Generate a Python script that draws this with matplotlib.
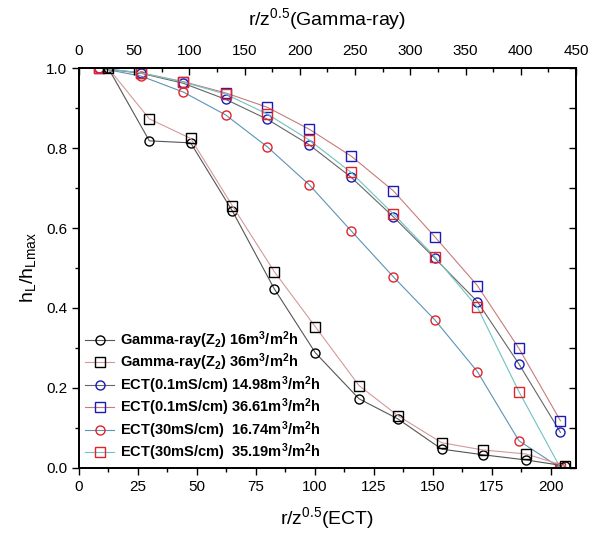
import matplotlib
matplotlib.use("Agg")
import matplotlib.pyplot as plt
from matplotlib.ticker import MultipleLocator

plt.rcParams['font.family'] = ['Liberation Sans', 'DejaVu Sans']
plt.rcParams['mathtext.fontset'] = 'custom'
plt.rcParams['mathtext.rm'] = 'Liberation Sans'
plt.rcParams['mathtext.it'] = 'Liberation Sans'
plt.rcParams['mathtext.bf'] = 'Liberation Sans:bold'

# Gamma-ray data (top axis, r/z^0.5 Gamma-ray)
gamma_x = [26.5, 63.7, 101.1, 138.8, 176.8, 214.0, 253.5, 289.1, 328.4, 365.5, 404.5, 440.0]
gamma_16 = [1.0, 0.818, 0.813, 0.643, 0.448, 0.288, 0.173, 0.122, 0.047, 0.033, 0.020, 0.005]
gamma_36 = [1.0, 0.873, 0.824, 0.656, 0.491, 0.353, 0.206, 0.130, 0.063, 0.045, 0.035, 0.005]

# ECT data (bottom axis, r/z^0.5 ECT)
ect_x = [8.6, 26.3, 44.2, 62.1, 79.8, 97.6, 115.3, 133.2, 150.8, 168.8, 186.4, 204.0]
ect01_1498 = [1.0, 0.987, 0.962, 0.922, 0.872, 0.808, 0.727, 0.628, 0.524, 0.416, 0.260, 0.089]
ect01_3661 = [1.0, 0.988, 0.966, 0.938, 0.902, 0.847, 0.780, 0.693, 0.578, 0.456, 0.299, 0.118]
ect30_1674 = [1.0, 0.980, 0.940, 0.883, 0.803, 0.708, 0.593, 0.478, 0.370, 0.241, 0.068, 0.0]
ect30_3519 = [1.0, 0.988, 0.965, 0.935, 0.885, 0.820, 0.739, 0.635, 0.528, 0.402, 0.191, 0.0]

labels = [r'Gamma-ray(Z$_\mathbf{2}$) 16m$^\mathbf{3}$/m$^\mathbf{2}$h',
          r'Gamma-ray(Z$_\mathbf{2}$) 36m$^\mathbf{3}$/m$^\mathbf{2}$h',
          r'ECT(0.1mS/cm) 14.98m$^\mathbf{3}$/m$^\mathbf{2}$h',
          r'ECT(0.1mS/cm) 36.61m$^\mathbf{3}$/m$^\mathbf{2}$h',
          r'ECT(30mS/cm)  16.74m$^\mathbf{3}$/m$^\mathbf{2}$h',
          r'ECT(30mS/cm)  35.19m$^\mathbf{3}$/m$^\mathbf{2}$h']

fig = plt.figure(figsize=(5.92, 5.36), dpi=100)
ax = fig.add_axes([0.1334, 0.127, 0.8396, 0.746])
ax2 = ax.twiny()
ax3 = ax.twinx()

ms = 6.5
mew = 1.0
lw = 0.8

ax2.plot(gamma_x, gamma_16, '-o', color='#555555', mfc='none', mec='black', ms=ms, mew=mew, lw=lw)
ax2.plot(gamma_x, gamma_36, '-s', color='#d49a9a', mfc='none', mec='black', ms=ms, mew=mew, lw=lw)
ax.plot(ect_x, ect01_1498, '-o', color='#666666', mfc='none', mec='#1a1ab8', ms=ms, mew=mew, lw=lw)
ax.plot(ect_x, ect01_3661, '-s', color='#c87b7b', mfc='none', mec='#1a1ab8', ms=ms, mew=mew, lw=lw)
ax.plot(ect_x, ect30_1674, '-o', color='#5b93b5', mfc='none', mec='#e0242a', ms=ms, mew=mew, lw=lw)
ax.plot(ect_x, ect30_3519, '-s', color='#6fc2c2', mfc='none', mec='#e0242a', ms=ms, mew=mew, lw=lw)

ax.set_xlim(0, 210.6)
ax.set_ylim(0, 1.0)
ax2.set_xlim(0, 450)
ax3.set_ylim(0, 1.0)

ax.xaxis.set_major_locator(MultipleLocator(25))
ax.xaxis.set_minor_locator(MultipleLocator(12.5))
ax.yaxis.set_major_locator(MultipleLocator(0.2))
ax.yaxis.set_minor_locator(MultipleLocator(0.1))
ax.set_yticks([0.0, 0.2, 0.4, 0.6, 0.8, 1.0])
ax.set_yticklabels(['0.0', '0.2', '0.4', '0.6', '0.8', '1.0'])
ax2.xaxis.set_major_locator(MultipleLocator(50))
ax2.xaxis.set_minor_locator(MultipleLocator(25))
ax3.yaxis.set_major_locator(MultipleLocator(0.1))
ax3.set_yticklabels([])

ax.tick_params(axis='both', which='major', direction='out', length=5, width=1, labelsize=11)
ax.tick_params(axis='both', which='minor', direction='out', length=3, width=1)
ax2.tick_params(axis='x', which='major', direction='in', length=5, width=1, labelsize=11, pad=7)
ax2.tick_params(axis='x', which='minor', direction='in', length=3, width=1)
ax3.tick_params(axis='y', which='major', direction='in', length=5, width=1)

for a in (ax, ax2, ax3):
    for s in a.spines.values():
        s.set_linewidth(1.1)

ax.set_xlabel(r'r/z$^{0.5}$(ECT)', fontsize=14, labelpad=8)
ax2.set_xlabel(r'r/z$^{0.5}$(Gamma-ray)', fontsize=14, labelpad=14)
ax.set_ylabel(r'h$_L$/h$_{Lmax}$', fontsize=14, labelpad=6)

handles = ax2.get_lines() + ax.get_lines()
leg = ax3.legend(handles, labels, loc='lower left', bbox_to_anchor=(-0.005, -0.01),
                 frameon=False, prop={'weight': 'bold', 'size': 10.5},
                 handlelength=2.0, handletextpad=0.4, labelspacing=0.06, borderaxespad=0.2)

fig.savefig('out.png', dpi=100)
